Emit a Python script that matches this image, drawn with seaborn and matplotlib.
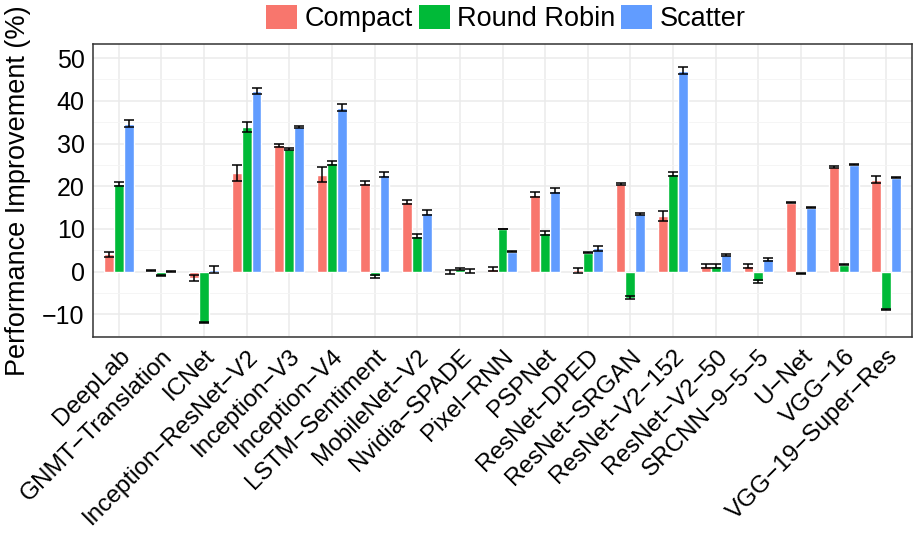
import numpy as np
import pandas as pd
import matplotlib
matplotlib.use("Agg")
import matplotlib.pyplot as plt
import seaborn as sns

models = ["DeepLab", "GNMT−Translation", "ICNet", "Inception−ResNet−V2", "Inception−V3",
          "Inception−V4", "LSTM−Sentiment", "MobileNet−V2", "Nvidia−SPADE", "Pixel−RNN",
          "PSPNet", "ResNet−DPED", "ResNet−SRGAN", "ResNet−V2−152", "ResNet−V2−50",
          "SRCNN−9−5−5", "U−Net", "VGG−16", "VGG−19−Super−Res"]
policies = ["Compact", "Round Robin", "Scatter"]

compact = [4.1, 0.2, -1.5, 23.1, 29.6, 22.7, 20.7, 16.3, -0.1, 0.6,
           18.0, 0.3, 20.5, 13.0, 1.3, 1.3, 16.1, 24.5, 21.5]
compact_err = [0.6, 0.1, 0.8, 1.9, 0.4, 1.7, 0.5, 0.5, 0.4, 0.5,
               0.6, 0.6, 0.2, 1.1, 0.5, 0.4, 0.1, 0.3, 0.8]
round_robin = [20.5, -1.0, -12.0, 33.9, 28.7, 25.4, -1.1, 8.4, 0.6, 10.0,
               9.1, 4.4, -6.1, 22.9, 1.3, -2.3, -0.5, 1.6, -8.8]
round_robin_err = [0.4, 0.1, 0.1, 1.2, 0.3, 0.5, 0.4, 0.5, 0.3, 0.1,
                   0.5, 0.1, 0.3, 0.4, 0.5, 0.4, 0.1, 0.1, 0.1]
scatter = [34.6, 0.1, 0.5, 42.3, 33.9, 38.4, 22.7, 13.8, 0.2, 4.7,
           18.9, 5.5, 13.5, 47.0, 3.9, 2.9, 15.0, 25.0, 22.0]
scatter_err = [0.8, 0.1, 0.8, 0.6, 0.3, 0.8, 0.6, 0.6, 0.4, 0.2,
               0.6, 0.6, 0.2, 0.8, 0.3, 0.4, 0.1, 0.1, 0.1]

values = {"Compact": compact, "Round Robin": round_robin, "Scatter": scatter}
errors = {"Compact": compact_err, "Round Robin": round_robin_err, "Scatter": scatter_err}
colors = ["#F8766D", "#00BA38", "#619CFF"]

rows = []
for p in policies:
    for m, v, e in zip(models, values[p], errors[p]):
        rows.append({"Model": m, "Policy": p, "Improvement": v, "Err": e})
df = pd.DataFrame(rows)

sns.set_theme(style="whitegrid")
plt.rcParams["font.family"] = ["Liberation Sans", "DejaVu Sans"]
plt.rcParams["text.color"] = "black"

W, H = 913, 544
fig = plt.figure(figsize=(W / 100, H / 100), dpi=100)
ax = fig.add_axes([93 / W, 1 - 337 / H, (912 - 93) / W, (337 - 44) / H])

sns.barplot(data=df, x="Model", y="Improvement", hue="Policy", order=models,
            hue_order=policies, palette=colors, errorbar=None, width=0.7,
            saturation=1, ax=ax, legend=False)

# error bars centred on each drawn bar
for cont, p in zip(ax.containers, policies):
    for bar, v, e in zip(cont, values[p], errors[p]):
        x = bar.get_x() + bar.get_width() / 2
        ax.errorbar(x, v, yerr=e, fmt="none", ecolor="black", elinewidth=1.1,
                    capsize=3.5, capthick=1.1, zorder=5)

ax.set_xlim(-0.6, len(models) - 0.4)
ax.set_ylim(-15.3, 53.3)
ax.set_yticks([-10, 0, 10, 20, 30, 40, 50])
ax.set_yticks([-15, -5, 5, 15, 25, 35, 45], minor=True)
ax.set_facecolor("white")
ax.grid(True, which="major", color="#EBEBEB", linewidth=1.1)
ax.grid(True, which="minor", axis="y", color="#F4F4F4", linewidth=0.6)
ax.set_axisbelow(True)
for s in ax.spines.values():
    s.set_visible(True)
    s.set_color("#333333")
    s.set_linewidth(1.1)

ax.tick_params(axis="both", which="major", length=4, width=1, color="#333333",
               direction="out", labelcolor="black", pad=2)
ax.tick_params(axis="y", labelsize=18)
ax.tick_params(axis="x", labelsize=17.5)
ax.tick_params(axis="both", which="minor", length=0)
ax.set_xticks(range(len(models)))
ax.set_xticklabels(models, rotation=45, ha="right", rotation_mode="anchor")
ax.set_xlabel("")
ax.set_ylabel("Performance Improvement (%)", fontsize=19.5, color="black", labelpad=8)

handles = [plt.Rectangle((0, 0), 1, 1, facecolor=c, edgecolor="none") for c in colors]
fig.legend(handles, policies, loc="upper center", bbox_to_anchor=(0.554, 1.01),
           ncol=3, frameon=False, fontsize=19.5, handlelength=1.15, handleheight=0.96,
           handletextpad=0.26, columnspacing=0.22, borderaxespad=0, labelcolor="black")

fig.savefig("out.png", dpi=100)
